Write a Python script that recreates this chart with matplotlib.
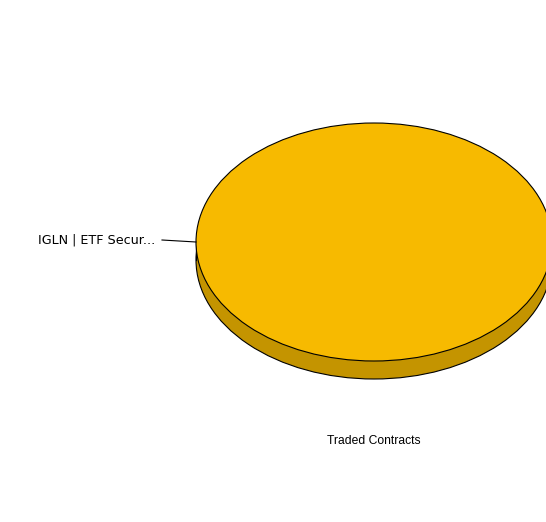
import numpy as np
import matplotlib.pyplot as plt
from matplotlib.patches import Wedge, Ellipse, Rectangle
from matplotlib.transforms import Affine2D

# chart data
labels = ['IGLN | ETF Secur...']
values = [100.0]
title = 'Traded Contracts'

top_color = '#F7BA00'
side_color = '#C49400'

fig = plt.figure(figsize=(5.46, 5.22), dpi=100)
ax = fig.add_axes([0, 0, 1, 1])
ax.set_xlim(0, 546)
ax.set_ylim(522, 0)
ax.axis('off')

cx, cy, rx, ry, depth = 374, 242, 178, 119, 18

# side of the pie (full pie -> whole lower rim)
ax.add_patch(Ellipse((cx, cy + depth), 2 * rx, 2 * ry, facecolor=side_color,
                     edgecolor='black', lw=0.8, zorder=1))
ax.add_patch(Rectangle((cx - rx, cy), 2 * rx, depth, facecolor=side_color,
                       edgecolor='none', zorder=1.5))
ax.plot([cx - rx, cx - rx], [cy, cy + depth], color='black', lw=0.8, zorder=1.6)
ax.plot([cx + rx, cx + rx], [cy, cy + depth], color='black', lw=0.8, zorder=1.6)

# top face from the values
tr = Affine2D().scale(rx, ry).translate(cx, cy) + ax.transData
total = sum(values)
start = 0.0
for lab, v in zip(labels, values):
    sweep = 360.0 * v / total
    w = Wedge((0, 0), 1, start, start + sweep, facecolor=top_color,
              edgecolor='black', lw=0.8, transform=tr, zorder=2)
    ax.add_patch(w)
    if sweep >= 359.999:
        w.set_edgecolor('none')
        ax.add_patch(Ellipse((cx, cy), 2 * rx, 2 * ry, facecolor='none',
                             edgecolor='black', lw=0.8, zorder=2.1))
    mid = np.deg2rad(start + sweep / 2)
    px, py = cx + rx * np.cos(mid), cy - ry * np.sin(mid)
    ax.plot([px - 34, px], [py - 2, py], color='black', lw=0.8, zorder=3)
    ax.text(px - 41, py - 2, lab, ha='right', va='center', fontsize=9.2,
            family='DejaVu Sans', color='black')
    start += sweep

ax.text(cx, 441, title, ha='center', va='center', fontsize=8.7,
        family='Liberation Sans', color='black')

fig.savefig('out.png', dpi=100)
